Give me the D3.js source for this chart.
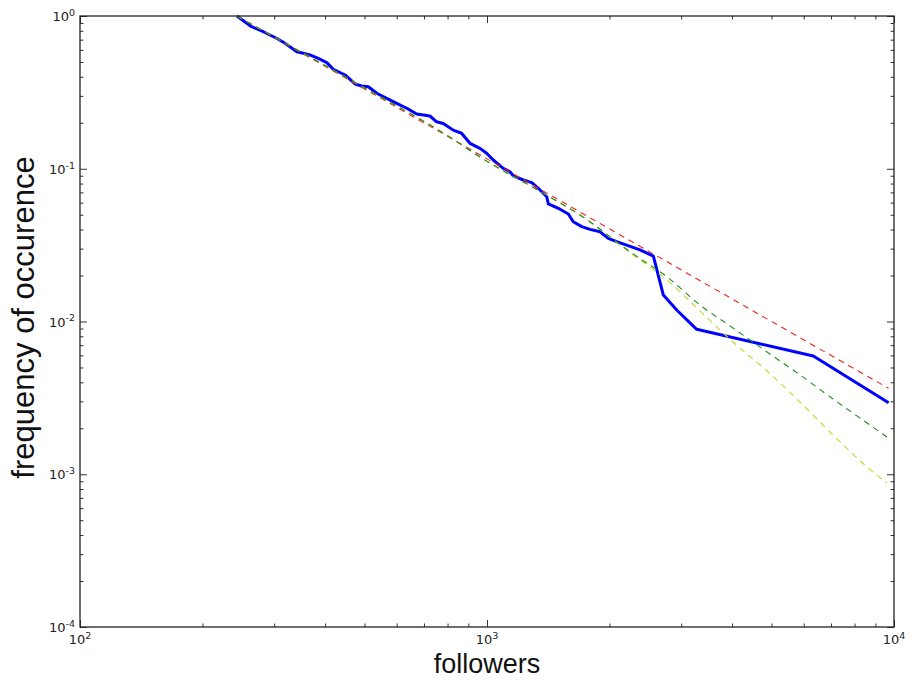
<!DOCTYPE html>
<html>
<head>
<meta charset="utf-8">
<script src="https://cdn.jsdelivr.net/npm/d3@7"></script>
<style>
  body { margin: 0; background: #fff; }
  .tick-label { font-family: "DejaVu Sans", sans-serif; font-size: 13px; fill: #222; }
  .axis-title { font-family: "Liberation Sans", Arial, sans-serif; fill: #111; }
</style>
</head>
<body>
<div id="chart"></div>
<script>
// observed distribution: followers vs frequency of occurence
const followers = [243, 264, 282, 304, 319, 341, 354, 367, 385, 404, 419, 448, 474, 492, 511, 536,
  567, 600, 635, 672, 724, 752, 781, 826, 866, 908, 961, 998, 1036, 1096, 1139, 1160, 1228, 1288,
  1350, 1402, 1415, 1497, 1584, 1629, 1709, 1791, 1895, 1986, 2083, 2377, 2563, 2712, 2925, 3275,
  6335, 9700];
const frequency = [1.0, 0.851, 0.789, 0.715, 0.663, 0.584, 0.570, 0.556, 0.528, 0.495, 0.448, 0.411,
  0.359, 0.348, 0.344, 0.312, 0.289, 0.268, 0.249, 0.228, 0.2215, 0.203, 0.198, 0.179, 0.1707, 0.1467,
  0.136, 0.1263, 0.1141, 0.1007, 0.0956, 0.0897, 0.0844, 0.0811, 0.0726, 0.0656, 0.0588, 0.0551,
  0.0506, 0.045, 0.0418, 0.0401, 0.0387, 0.035, 0.0333, 0.0294, 0.0268, 0.0149, 0.0119, 0.00889,
  0.00594, 0.00294];

// fitted curves (dashed)
const fitRedX = [243, 9700];
const fitRedY = [1.0, 0.00365];
const fitGreenX = [243, 516, 788, 961, 1428, 1693, 2285, 2769, 3337, 4022, 4875, 5875, 7081, 8585, 9610];
const fitGreenY = [1.0, 0.323, 0.1689, 0.1194, 0.0653, 0.0498, 0.0277, 0.0196, 0.01282, 0.00907,
  0.00632, 0.00447, 0.00311, 0.002166, 0.001753];
const fitYellowX = [243, 516, 788, 961, 1428, 1693, 2285, 2769, 3337, 4022, 4875, 5875, 7081, 8585, 9610];
const fitYellowY = [1.0, 0.323, 0.1689, 0.1194, 0.0653, 0.0498, 0.02725, 0.0187, 0.01171, 0.00734,
  0.00474, 0.00297, 0.00181, 0.001115, 0.000877];

const xMajor = [2, 3, 4];    // exponents of 10
const yMajor = [-4, -3, -2, -1, 0];

const width = 918;
const height = 680;
const margin = { top: 16, right: 24, bottom: 53, left: 80 };

const x = d3.scaleLog()
  .domain([1e2, 1e4])
  .range([margin.left, width - margin.right]);
const y = d3.scaleLog()
  .domain([1e-4, 1])
  .range([height - margin.bottom, margin.top]);

const minorOf = (exps) => {
  const out = [];
  for (let i = 0; i < exps.length - 1; i++) {
    for (let k = 2; k <= 9; k++) out.push(k * Math.pow(10, exps[i]));
  }
  return out;
};

const svg = d3.select("#chart")
  .append("svg")
  .attr("width", width)
  .attr("height", height)
  .attr("viewBox", [0, 0, width, height]);

const line = d3.line()
  .x((d) => x(d[0]))
  .y((d) => y(d[1]));
const curve = d3.line()
  .x((d) => x(d[0]))
  .y((d) => y(d[1]))
  .curve(d3.curveMonotoneX);

const zip = (a, b) => a.map((v, i) => [v, b[i]]);

svg.append("path")
  .datum(zip(followers, frequency))
  .attr("fill", "none")
  .attr("stroke", "#0000ff")
  .attr("stroke-width", 3)
  .attr("stroke-linejoin", "round")
  .attr("d", line);

svg.append("path")
  .datum(zip(fitRedX, fitRedY))
  .attr("fill", "none")
  .attr("stroke", "#ee2020")
  .attr("stroke-width", 1.1)
  .attr("stroke-dasharray", "6,5")
  .attr("d", line);

svg.append("path")
  .datum(zip(fitYellowX, fitYellowY))
  .attr("fill", "none")
  .attr("stroke", "#c4d42a")
  .attr("stroke-width", 1.1)
  .attr("stroke-dasharray", "6,5")
  .attr("d", curve);

svg.append("path")
  .datum(zip(fitGreenX, fitGreenY))
  .attr("fill", "none")
  .attr("stroke", "#1f8a1f")
  .attr("stroke-width", 1.1)
  .attr("stroke-dasharray", "6,5")
  .attr("d", curve);

// ticks on all four sides, pointing inward
const tickAxis = (axis, transform, values, size) =>
  svg.append("g")
    .attr("transform", transform)
    .call(axis.tickValues(values).tickSize(-size).tickFormat(""))
    .call((g) => g.select(".domain").remove())
    .call((g) => g.selectAll("line").attr("stroke", "#333"));

const xMaj = xMajor.map((e) => Math.pow(10, e));
const yMaj = yMajor.map((e) => Math.pow(10, e));
const bottomT = `translate(0,${height - margin.bottom})`;
const topT = `translate(0,${margin.top})`;
const leftT = `translate(${margin.left},0)`;
const rightT = `translate(${width - margin.right},0)`;

tickAxis(d3.axisBottom(x), bottomT, xMaj, 7);
tickAxis(d3.axisBottom(x), bottomT, minorOf(xMajor), 3.5);
tickAxis(d3.axisTop(x), topT, xMaj, 7);
tickAxis(d3.axisTop(x), topT, minorOf(xMajor), 3.5);
tickAxis(d3.axisLeft(y), leftT, yMaj, 7);
tickAxis(d3.axisLeft(y), leftT, minorOf(yMajor), 3.5);
tickAxis(d3.axisRight(y), rightT, yMaj, 7);
tickAxis(d3.axisRight(y), rightT, minorOf(yMajor), 3.5);

// frame
svg.append("rect")
  .attr("x", margin.left)
  .attr("y", margin.top)
  .attr("width", width - margin.left - margin.right)
  .attr("height", height - margin.top - margin.bottom)
  .attr("fill", "none")
  .attr("stroke", "#222")
  .attr("stroke-width", 1.3);

// tick labels 10^n
const powLabel = (sel, e) => {
  sel.append("tspan").text("10");
  sel.append("tspan")
    .attr("font-size", "9.5px")
    .attr("dy", "-0.55em")
    .text(e < 0 ? "-" + Math.abs(e) : e);
};

svg.append("g")
  .selectAll("text")
  .data(xMajor)
  .join("text")
  .attr("class", "tick-label")
  .attr("x", (e) => x(Math.pow(10, e)))
  .attr("y", height - margin.bottom + 17)
  .attr("text-anchor", "middle")
  .each(function (e) { powLabel(d3.select(this), e); });

svg.append("g")
  .selectAll("text")
  .data(yMajor)
  .join("text")
  .attr("class", "tick-label")
  .attr("x", margin.left - 5)
  .attr("y", (e) => y(Math.pow(10, e)) + 5)
  .attr("text-anchor", "end")
  .each(function (e) { powLabel(d3.select(this), e); });

// axis titles
svg.append("text")
  .attr("class", "axis-title")
  .attr("font-size", 27)
  .attr("text-anchor", "middle")
  .attr("x", (margin.left + width - margin.right) / 2)
  .attr("y", height - 7)
  .text("followers");

svg.append("text")
  .attr("class", "axis-title")
  .attr("font-size", 31)
  .attr("text-anchor", "middle")
  .attr("transform", `translate(34,${(margin.top + height - margin.bottom) / 2 - 4})rotate(-90)`)
  .text("frequency of occurence");
</script>
</body>
</html>
